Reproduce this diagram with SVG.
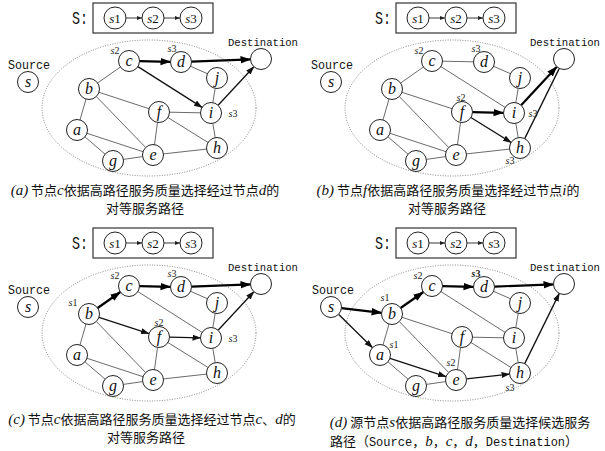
<svg xmlns="http://www.w3.org/2000/svg" width="605" height="451" viewBox="0 0 605 451">
<style>
.bg{fill:#fff}
.nd{fill:#fff;stroke:#222;stroke-width:1}
.nt{font-family:"Liberation Serif","Times New Roman",serif;font-style:italic;font-size:16px;text-anchor:middle;fill:#111}
.st{font-family:"Liberation Serif","Times New Roman",serif;font-size:13px;text-anchor:middle;fill:#111}
.st .i{font-style:italic}
.lb{font-family:"Liberation Serif","Times New Roman",serif;font-size:10px;text-anchor:middle;fill:#222}
.lb .i{font-style:italic}
.mono{font-family:"Liberation Mono","Courier New",monospace;font-size:12px;fill:#111}
.dest{font-family:"Liberation Mono","Courier New",monospace;font-size:11px;fill:#111}
.big{font-family:"Liberation Mono","Courier New",monospace;font-size:18px;fill:#111}
.box{fill:none;stroke:#333;stroke-width:1.2}
.ell{fill:none;stroke:#666;stroke-width:0.8;stroke-dasharray:1 1.5}
.thin{stroke:#444;stroke-width:0.8;fill:none}
.med{stroke:#111;stroke-width:1.3;fill:none;marker-end:url(#am)}
.medl{stroke:#111;stroke-width:1.3;fill:none}
.thk{stroke:#000;stroke-width:2.2;fill:none;marker-end:url(#ah)}
.sa{stroke:#222;stroke-width:0.9;fill:none;marker-end:url(#as)}
.cap{font-family:"Noto Sans CJK SC","Noto Sans",sans-serif;font-size:13px;text-anchor:middle;fill:#111}
.cap .i{font-family:"Liberation Serif","Times New Roman",serif;font-style:italic;font-size:15px}
.cap .m{font-family:"Liberation Mono","Courier New",monospace;font-size:12px}
</style>
<defs>
<marker id="ah" markerUnits="userSpaceOnUse" markerWidth="11" markerHeight="8" refX="10" refY="3.75" orient="auto"><path d="M0,0 L10.5,3.75 L0,7.5 z" fill="#000"/></marker>
<marker id="am" markerUnits="userSpaceOnUse" markerWidth="9" markerHeight="7" refX="8" refY="3" orient="auto"><path d="M0,0 L8.5,3 L0,6 z" fill="#111"/></marker>
<marker id="as" markerUnits="userSpaceOnUse" markerWidth="6" markerHeight="5" refX="5" refY="2" orient="auto"><path d="M0,0 L5,2 L0,4 z" fill="#222"/></marker>
<g id="sbox">
<text class="big" x="72" y="24" textLength="16" lengthAdjust="spacingAndGlyphs">S:</text>
<rect class="box" x="93" y="3" width="120" height="30"/>
<circle class="nd" cx="115" cy="18" r="11"/><text class="st" x="115" y="22.5"><tspan class="i">s</tspan>1</text>
<circle class="nd" cx="153" cy="18" r="11"/><text class="st" x="153" y="22.5"><tspan class="i">s</tspan>2</text>
<circle class="nd" cx="191" cy="18" r="11"/><text class="st" x="191" y="22.5"><tspan class="i">s</tspan>3</text>
<line class="sa" x1="126" y1="18" x2="142" y2="18"/>
<line class="sa" x1="164" y1="18" x2="180" y2="18"/>
</g>
</defs>
<rect class="bg" x="0" y="0" width="605" height="451"/>

<!-- Panel a -->
<g id="panel-a">
<use href="#sbox"/>
<ellipse class="ell" cx="149" cy="108" rx="107" ry="68"/>
<g id="a-edges">
<line class="thin" x1="120.4" y1="67.0" x2="97.6" y2="83.0"/>
<line class="thin" x1="190.6" y1="66.3" x2="207.4" y2="73.7"/>
<line class="thin" x1="215.2" y1="88.4" x2="212.8" y2="102.6"/>
<line class="thin" x1="99.0" y1="92.3" x2="149.0" y2="108.7"/>
<line class="thin" x1="86.0" y1="99.1" x2="80.0" y2="119.9"/>
<line class="thin" x1="96.3" y1="96.5" x2="145.7" y2="147.5"/>
<line class="thin" x1="169.5" y1="112.2" x2="200.5" y2="112.8"/>
<line class="thin" x1="157.5" y1="122.4" x2="154.5" y2="144.6"/>
<line class="thin" x1="167.9" y1="117.5" x2="208.1" y2="142.5"/>
<line class="thin" x1="212.8" y1="123.4" x2="215.2" y2="137.6"/>
<line class="thin" x1="87.0" y1="133.3" x2="143.0" y2="151.7"/>
<line class="thin" x1="85.0" y1="136.9" x2="105.0" y2="154.1"/>
<line class="thin" x1="123.4" y1="159.4" x2="142.6" y2="156.6"/>
<line class="thin" x1="163.4" y1="153.9" x2="206.6" y2="149.1"/>
<line class="thk" x1="139.5" y1="61.2" x2="170.5" y2="61.8"/>
<line class="thk" x1="191.5" y1="61.6" x2="250.5" y2="59.4"/>
<line class="med" x1="137.9" y1="66.6" x2="202.1" y2="107.4"/>
<line class="med" x1="218.1" y1="105.3" x2="253.9" y2="66.7"/>
</g>
<text class="mono" x="8" y="69" textLength="42" lengthAdjust="spacingAndGlyphs">Source</text>
<text class="dest" x="228" y="46" textLength="70" lengthAdjust="spacingAndGlyphs">Destination</text>
<g id="a-s"><circle class="nd" cx="28" cy="82" r="10.5"/><text class="nt" x="28" y="86.5">s</text></g>
<g id="a-c"><circle class="nd" cx="129" cy="61" r="10.5"/><text class="nt" x="129" y="65.5">c</text></g>
<g id="a-d"><circle class="nd" cx="181" cy="62" r="10.5"/><text class="nt" x="181" y="66.5">d</text></g>
<g id="a-dest"><circle class="nd" cx="261" cy="59" r="10.5"/></g>
<g id="a-j"><circle class="nd" cx="217" cy="78" r="10.5"/><text class="nt" x="217" y="82.5">j</text></g>
<g id="a-b"><circle class="nd" cx="89" cy="89" r="10.5"/><text class="nt" x="89" y="93.5">b</text></g>
<g id="a-f"><circle class="nd" cx="159" cy="112" r="10.5"/><text class="nt" x="159" y="116.5">f</text></g>
<g id="a-i"><circle class="nd" cx="211" cy="113" r="10.5"/><text class="nt" x="211" y="117.5">i</text></g>
<g id="a-a"><circle class="nd" cx="77" cy="130" r="10.5"/><text class="nt" x="77" y="134.5">a</text></g>
<g id="a-h"><circle class="nd" cx="217" cy="148" r="10.5"/><text class="nt" x="217" y="152.5">h</text></g>
<g id="a-e"><circle class="nd" cx="153" cy="155" r="10.5"/><text class="nt" x="153" y="159.5">e</text></g>
<g id="a-g"><circle class="nd" cx="113" cy="161" r="10.5"/><text class="nt" x="113" y="165.5">g</text></g>
<text class="lb" x="115" y="53.5"><tspan class="i">s</tspan>2</text>
<text class="lb" x="172" y="51.5"><tspan class="i">s</tspan>3</text>
<text class="lb" x="233" y="116.5"><tspan class="i">s</tspan>3</text>
</g>

<!-- Panel b -->
<g id="panel-b" transform="translate(303,0)">
<use href="#sbox"/>
<ellipse class="ell" cx="149" cy="108" rx="107" ry="68"/>
<g id="b-edges">
<line class="thin" x1="139.5" y1="61.2" x2="170.5" y2="61.8"/>
<line class="thin" x1="120.4" y1="67.0" x2="97.6" y2="83.0"/>
<line class="thin" x1="137.9" y1="66.6" x2="202.1" y2="107.4"/>
<line class="thin" x1="190.6" y1="66.3" x2="207.4" y2="73.7"/>
<line class="thin" x1="215.2" y1="88.4" x2="212.8" y2="102.6"/>
<line class="thin" x1="99.0" y1="92.3" x2="149.0" y2="108.7"/>
<line class="thin" x1="86.0" y1="99.1" x2="80.0" y2="119.9"/>
<line class="thin" x1="96.3" y1="96.5" x2="145.7" y2="147.5"/>
<line class="thin" x1="157.5" y1="122.4" x2="154.5" y2="144.6"/>
<line class="thin" x1="212.8" y1="123.4" x2="215.2" y2="137.6"/>
<line class="thin" x1="87.0" y1="133.3" x2="143.0" y2="151.7"/>
<line class="thin" x1="85.0" y1="136.9" x2="105.0" y2="154.1"/>
<line class="thin" x1="123.4" y1="159.4" x2="142.6" y2="156.6"/>
<line class="thin" x1="163.4" y1="153.9" x2="206.6" y2="149.1"/>
<line class="thk" x1="169.5" y1="112.2" x2="200.5" y2="112.8"/>
<line class="thk" x1="218.1" y1="105.3" x2="253.9" y2="66.7"/>
<line class="med" x1="167.9" y1="117.5" x2="208.1" y2="142.5"/>
<line class="medl" x1="221.7" y1="138.6" x2="256.3" y2="68.4"/>
</g>
<text class="mono" x="8" y="69" textLength="42" lengthAdjust="spacingAndGlyphs">Source</text>
<text class="dest" x="227" y="46" textLength="70" lengthAdjust="spacingAndGlyphs">Destination</text>
<g id="b-s"><circle class="nd" cx="28" cy="82" r="10.5"/><text class="nt" x="28" y="86.5">s</text></g>
<g id="b-c"><circle class="nd" cx="129" cy="61" r="10.5"/><text class="nt" x="129" y="65.5">c</text></g>
<g id="b-d"><circle class="nd" cx="181" cy="62" r="10.5"/><text class="nt" x="181" y="66.5">d</text></g>
<g id="b-dest"><circle class="nd" cx="261" cy="59" r="10.5"/></g>
<g id="b-j"><circle class="nd" cx="217" cy="78" r="10.5"/><text class="nt" x="217" y="82.5">j</text></g>
<g id="b-b"><circle class="nd" cx="89" cy="89" r="10.5"/><text class="nt" x="89" y="93.5">b</text></g>
<g id="b-f"><circle class="nd" cx="159" cy="112" r="10.5"/><text class="nt" x="159" y="116.5">f</text></g>
<g id="b-i"><circle class="nd" cx="211" cy="113" r="10.5"/><text class="nt" x="211" y="117.5">i</text></g>
<g id="b-a"><circle class="nd" cx="77" cy="130" r="10.5"/><text class="nt" x="77" y="134.5">a</text></g>
<g id="b-h"><circle class="nd" cx="217" cy="148" r="10.5"/><text class="nt" x="217" y="152.5">h</text></g>
<g id="b-e"><circle class="nd" cx="153" cy="155" r="10.5"/><text class="nt" x="153" y="159.5">e</text></g>
<g id="b-g"><circle class="nd" cx="113" cy="161" r="10.5"/><text class="nt" x="113" y="165.5">g</text></g>
<text class="lb" x="116" y="53.5"><tspan class="i">s</tspan>2</text>
<text class="lb" x="173" y="51.5"><tspan class="i">s</tspan>3</text>
<text class="lb" x="158" y="100.5"><tspan class="i">s</tspan>2</text>
<text class="lb" x="230" y="116.5"><tspan class="i">s</tspan>3</text>
<text class="lb" x="207" y="163.5"><tspan class="i">s</tspan>3</text>
</g>

<!-- Panel c -->
<g id="panel-c" transform="translate(0,225)">
<use href="#sbox"/>
<ellipse class="ell" cx="149" cy="108" rx="107" ry="68"/>
<g id="c-edges">
<line class="thin" x1="137.9" y1="66.6" x2="202.1" y2="107.4"/>
<line class="thin" x1="190.6" y1="66.3" x2="207.4" y2="73.7"/>
<line class="thin" x1="215.2" y1="88.4" x2="212.8" y2="102.6"/>
<line class="thin" x1="86.0" y1="99.1" x2="80.0" y2="119.9"/>
<line class="thin" x1="96.3" y1="96.5" x2="145.7" y2="147.5"/>
<line class="thin" x1="157.5" y1="122.4" x2="154.5" y2="144.6"/>
<line class="thin" x1="167.9" y1="117.5" x2="208.1" y2="142.5"/>
<line class="thin" x1="212.8" y1="123.4" x2="215.2" y2="137.6"/>
<line class="thin" x1="87.0" y1="133.3" x2="143.0" y2="151.7"/>
<line class="thin" x1="85.0" y1="136.9" x2="105.0" y2="154.1"/>
<line class="thin" x1="123.4" y1="159.4" x2="142.6" y2="156.6"/>
<line class="thin" x1="163.4" y1="153.9" x2="206.6" y2="149.1"/>
<line class="thk" x1="97.6" y1="83.0" x2="120.4" y2="67.0"/>
<line class="thk" x1="139.5" y1="61.2" x2="170.5" y2="61.8"/>
<line class="thk" x1="191.5" y1="61.6" x2="250.5" y2="59.4"/>
<line class="med" x1="99.0" y1="92.3" x2="149.0" y2="108.7"/>
<line class="med" x1="169.5" y1="112.2" x2="200.5" y2="112.8"/>
<line class="med" x1="218.1" y1="105.3" x2="253.9" y2="66.7"/>
</g>
<text class="mono" x="8" y="69" textLength="42" lengthAdjust="spacingAndGlyphs">Source</text>
<text class="dest" x="228" y="46" textLength="70" lengthAdjust="spacingAndGlyphs">Destination</text>
<g id="c-s"><circle class="nd" cx="28" cy="82" r="10.5"/><text class="nt" x="28" y="86.5">s</text></g>
<g id="c-c"><circle class="nd" cx="129" cy="61" r="10.5"/><text class="nt" x="129" y="65.5">c</text></g>
<g id="c-d"><circle class="nd" cx="181" cy="62" r="10.5"/><text class="nt" x="181" y="66.5">d</text></g>
<g id="c-dest"><circle class="nd" cx="261" cy="59" r="10.5"/></g>
<g id="c-j"><circle class="nd" cx="217" cy="78" r="10.5"/><text class="nt" x="217" y="82.5">j</text></g>
<g id="c-b"><circle class="nd" cx="89" cy="89" r="10.5"/><text class="nt" x="89" y="93.5">b</text></g>
<g id="c-f"><circle class="nd" cx="159" cy="112" r="10.5"/><text class="nt" x="159" y="116.5">f</text></g>
<g id="c-i"><circle class="nd" cx="211" cy="113" r="10.5"/><text class="nt" x="211" y="117.5">i</text></g>
<g id="c-a"><circle class="nd" cx="77" cy="130" r="10.5"/><text class="nt" x="77" y="134.5">a</text></g>
<g id="c-h"><circle class="nd" cx="217" cy="148" r="10.5"/><text class="nt" x="217" y="152.5">h</text></g>
<g id="c-e"><circle class="nd" cx="153" cy="155" r="10.5"/><text class="nt" x="153" y="159.5">e</text></g>
<g id="c-g"><circle class="nd" cx="113" cy="161" r="10.5"/><text class="nt" x="113" y="165.5">g</text></g>
<text class="lb" x="73" y="80.5"><tspan class="i">s</tspan>1</text>
<text class="lb" x="115" y="53.5"><tspan class="i">s</tspan>2</text>
<text class="lb" x="172" y="51.5"><tspan class="i">s</tspan>3</text>
<text class="lb" x="159" y="100.5"><tspan class="i">s</tspan>2</text>
<text class="lb" x="233" y="116.5"><tspan class="i">s</tspan>3</text>
</g>

<!-- Panel d -->
<g id="panel-d" transform="translate(303,225)">
<use href="#sbox"/>
<ellipse class="ell" cx="149" cy="108" rx="107" ry="68"/>
<g id="d-edges">
<line class="thin" x1="137.9" y1="66.6" x2="202.1" y2="107.4"/>
<line class="thin" x1="190.6" y1="66.3" x2="207.4" y2="73.7"/>
<line class="thin" x1="215.2" y1="88.4" x2="212.8" y2="102.6"/>
<line class="thin" x1="86.0" y1="99.1" x2="80.0" y2="119.9"/>
<line class="thin" x1="99.0" y1="92.3" x2="149.0" y2="108.7"/>
<line class="thin" x1="96.3" y1="96.5" x2="145.7" y2="147.5"/>
<line class="thin" x1="169.5" y1="112.2" x2="200.5" y2="112.8"/>
<line class="thin" x1="157.5" y1="122.4" x2="154.5" y2="144.6"/>
<line class="thin" x1="167.9" y1="117.5" x2="208.1" y2="142.5"/>
<line class="thin" x1="212.8" y1="123.4" x2="215.2" y2="137.6"/>
<line class="thin" x1="85.0" y1="136.9" x2="105.0" y2="154.1"/>
<line class="thin" x1="123.4" y1="159.4" x2="142.6" y2="156.6"/>
<line class="thk" x1="38.4" y1="83.2" x2="78.6" y2="87.8"/>
<line class="thk" x1="97.6" y1="83.0" x2="120.4" y2="67.0"/>
<line class="thk" x1="139.5" y1="61.2" x2="170.5" y2="61.8"/>
<line class="thk" x1="191.5" y1="61.6" x2="250.5" y2="59.4"/>
<line class="med" x1="35.5" y1="89.3" x2="69.5" y2="122.7"/>
<line class="med" x1="87.0" y1="133.3" x2="143.0" y2="151.7"/>
<line class="med" x1="163.4" y1="153.9" x2="206.6" y2="149.1"/>
<line class="med" x1="221.7" y1="138.6" x2="256.3" y2="68.4"/>
</g>
<text class="mono" x="9" y="69" textLength="42" lengthAdjust="spacingAndGlyphs">Source</text>
<text class="dest" x="227" y="46" textLength="70" lengthAdjust="spacingAndGlyphs">Destination</text>
<g id="d-s"><circle class="nd" cx="28" cy="82" r="10.5"/><text class="nt" x="28" y="86.5">s</text></g>
<g id="d-c"><circle class="nd" cx="129" cy="61" r="10.5"/><text class="nt" x="129" y="65.5">c</text></g>
<g id="d-d"><circle class="nd" cx="181" cy="62" r="10.5"/><text class="nt" x="181" y="66.5">d</text></g>
<g id="d-dest"><circle class="nd" cx="261" cy="59" r="10.5"/></g>
<g id="d-j"><circle class="nd" cx="217" cy="78" r="10.5"/><text class="nt" x="217" y="82.5">j</text></g>
<g id="d-b"><circle class="nd" cx="89" cy="89" r="10.5"/><text class="nt" x="89" y="93.5">b</text></g>
<g id="d-f"><circle class="nd" cx="159" cy="112" r="10.5"/><text class="nt" x="159" y="116.5">f</text></g>
<g id="d-i"><circle class="nd" cx="211" cy="113" r="10.5"/><text class="nt" x="211" y="117.5">i</text></g>
<g id="d-a"><circle class="nd" cx="77" cy="130" r="10.5"/><text class="nt" x="77" y="134.5">a</text></g>
<g id="d-h"><circle class="nd" cx="217" cy="148" r="10.5"/><text class="nt" x="217" y="152.5">h</text></g>
<g id="d-e"><circle class="nd" cx="153" cy="155" r="10.5"/><text class="nt" x="153" y="159.5">e</text></g>
<g id="d-g"><circle class="nd" cx="113" cy="161" r="10.5"/><text class="nt" x="113" y="165.5">g</text></g>
<text class="lb" x="82" y="75.5"><tspan class="i">s</tspan>1</text>
<text class="lb" x="115" y="53.5"><tspan class="i">s</tspan>2</text>
<text class="lb" x="173" y="51.5" font-weight="bold"><tspan class="i">s</tspan>3</text>
<text class="lb" x="91" y="122.5"><tspan class="i">s</tspan>1</text>
<text class="lb" x="148" y="140.5"><tspan class="i">s</tspan>2</text>
<text class="lb" x="207" y="165.5"><tspan class="i">s</tspan>3</text>
</g>

<!-- Captions -->
<g id="captions">
<text class="cap" x="145" y="195"><tspan class="i">(a)</tspan> 节点<tspan class="i">c</tspan>依据高路径服务质量选择经过节点<tspan class="i">d</tspan>的</text>
<text class="cap" x="145" y="213">对等服务路径</text>
<text class="cap" x="448" y="195"><tspan class="i">(b)</tspan> 节点<tspan class="i">f</tspan>依据高路径服务质量选择经过节点<tspan class="i">i</tspan>的</text>
<text class="cap" x="447" y="213">对等服务路径</text>
<text class="cap" x="152" y="424"><tspan class="i">(c)</tspan> 节点<tspan class="i">c</tspan>依据高路径服务质量选择经过节点<tspan class="i">c</tspan>、<tspan class="i">d</tspan>的</text>
<text class="cap" x="146" y="442">对等服务路径</text>
<text class="cap" x="460" y="427"><tspan class="i">(d)</tspan> 源节点<tspan class="i">s</tspan>依据高路径服务质量选择候选服务</text>
<text class="cap" x="454" y="446">路径（<tspan class="m">Source</tspan>，<tspan class="i">b</tspan>，<tspan class="i">c</tspan>，<tspan class="i">d</tspan>，<tspan class="m">Destination</tspan>）</text>
</g>
</svg>
